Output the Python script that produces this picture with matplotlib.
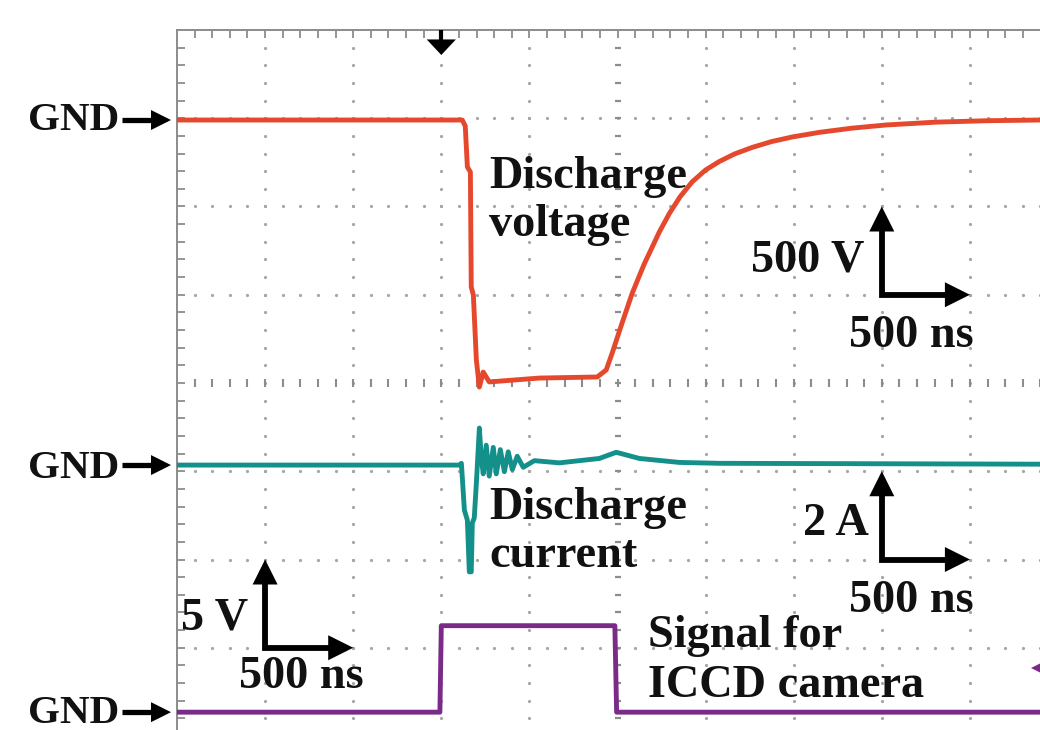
import matplotlib
matplotlib.use("Agg")
import matplotlib.pyplot as plt
import numpy as np

# ---------------- data ----------------
# time in ns (trigger at 0 ns), 500 ns / div
volt_t = [-1500, 119, 136, 148, 165, 170, 182, 199, 216, 238, 272, 556, 885,
          936, 970, 1022, 1084, 1152, 1197, 1237, 1294, 1355, 1424, 1500,
          1578, 1665, 1765, 1875, 1992, 2145, 2332, 2525, 2809, 3100, 3398]
volt_v = [0, 0, -34, -266, -295, -946, -992, -1360, -1513, -1428, -1484,
          -1462, -1456, -1416, -1320, -1162, -980, -815, -720, -635, -530,
          -435, -350, -283, -235, -192, -155, -122, -96, -70, -46, -28, -12,
          -4, 0]                                      # V, 500 V / div

curr_t = [-1500, 102, 114, 131, 148, 159, 170, 176, 187, 199, 216, 227, 238,
          255, 272, 295, 312, 335, 358, 380, 403, 431, 465, 528, 670, 897,
          993, 1124, 1351, 1578, 3398]
curr_a = [0, 0, 0.04, -1.02, -1.25, -2.42, -2.42, -1.31, -1.2, -0.41, 0.84,
          0.16, -0.2, 0.45, -0.25, 0.40, -0.2, 0.35, -0.15, 0.30, -0.1, 0.2,
          -0.05, 0.1, 0.05, 0.15, 0.29, 0.15, 0.06, 0.04, 0.02]  # A, 2 A / div

iccd_t = [-1500, -8, 0, 985, 995, 3398]
iccd_v = [0, 0, 4.9, 4.9, 0, 0]                      # V, 5 V / div
iccd_trig_level = 2.5                                # V (marker at right edge)

# channel settings: (GND position in divisions, units per division, colour)
chan_gnd = [6.98, 3.07, 0.27]
chan_scale = [500, 2, 5]
chan_color = ["#E5482C", "#14908A", "#7A2B88"]

trace_labels = [("Discharge", 489, 188), ("voltage", 489, 236),
                ("Discharge", 489, 519), ("current", 489, 567),
                ("Signal for", 648, 647), ("ICCD camera", 648, 697)]
scale_bars = [(8, 5, "500 V", "500 ns"), (8, 2, "2 A", "500 ns"),
              (1, 1, "5 V", "500 ns")]

# ---------------- layout ----------------
W, H = 1040, 730
X0, Y0 = 177, 30           # grid left / top in pixels
DXP, DYP = 88.1, 88.25     # pixels per division
XMAX = (W - X0) / DXP
YMIN = 8 - (H - Y0) / DYP


def dx(px):
    return (px - X0) / DXP


def dy(py):
    return 8 - (py - Y0) / DYP


FONT = ["Liberation Serif", "DejaVu Serif"]
FS = 33.3
GRID_C = "#8c8c8c"
DOT_C = "#a6a6a6"
TXT_C = "#111111"

fig = plt.figure(figsize=(W / 100, H / 100), dpi=100)
fig.patch.set_facecolor("white")
rect = [X0 / W, 0, (W - X0) / W, (H - Y0) / H]
ax = fig.add_axes(rect)
ax.set_xlim(0, XMAX)
ax.set_ylim(YMIN, 8)
ax.set_facecolor("white")
for s in ["bottom", "right"]:
    ax.spines[s].set_visible(False)
for s in ["left", "top"]:
    ax.spines[s].set_color(GRID_C)
    ax.spines[s].set_linewidth(1.4)
ax.xaxis.tick_top()
ax.set_xticks(np.arange(0.2, XMAX, 0.2))
ax.set_yticks(np.arange(0.2, 8, 0.2))
ax.tick_params(direction="in", length=5.5, width=1.3, colors=GRID_C,
               labeltop=False, labelleft=False, labelbottom=False)

fine_y = np.arange(0.2, 8.0, 0.2)
fine_x = np.arange(0.2, 10.0, 0.2)
for xv in [1, 2, 3, 4, 6, 7, 8, 9]:
    ax.plot(np.full(len(fine_y), xv), fine_y, "o", ms=2.3, mew=0,
            color=DOT_C, zorder=1)
for yh in [1, 2, 3, 5, 6, 7]:
    ax.plot(fine_x, np.full(len(fine_x), yh), "o", ms=2.3, mew=0,
            color=DOT_C, zorder=1)
ax.plot(np.full(len(fine_y), 5), fine_y, "_", ms=5, mew=1.6, color=GRID_C,
        zorder=1)
ax.plot(fine_x, np.full(len(fine_x), 4), "|", ms=6, mew=1.5, color=GRID_C,
        zorder=1)
ax.plot(fine_x, np.full(len(fine_x), dy(733)), "|", ms=5, mew=1.3,
        color=GRID_C, zorder=1)

# ---------------- traces ----------------
series = [(volt_t, volt_v), (curr_t, curr_a), (iccd_t, iccd_v)]
chan_axes = []
for i, (t, v) in enumerate(series):
    a = fig.add_axes(rect, label=f"ch{i}", facecolor="none")
    a.set_xlim(-1500, (XMAX - 3) * 500)
    g, sc = chan_gnd[i], chan_scale[i]
    a.set_ylim((YMIN - g) * sc, (8 - g) * sc)
    a.axis("off")
    a.plot(t, v, color=chan_color[i], lw=3.5, solid_joinstyle="round",
           zorder=3)
    chan_axes.append(a)

chan_axes[2].plot([(XMAX - 3) * 500 - 8], [iccd_trig_level], "<",
                  ms=12, color=chan_color[2], mew=0, clip_on=False)

# ---------------- annotations (on top axes) ----------------
ann = fig.add_axes(rect, label="ann", facecolor="none")
ann.set_xlim(0, XMAX)
ann.set_ylim(YMIN, 8)
ann.axis("off")

# trigger marker
ann.plot([3, 3], [8, dy(43)], color="black", lw=3, solid_capstyle="butt")
ann.annotate("", xy=(3, dy(55)), xytext=(3, dy(38)), annotation_clip=False,
             arrowprops=dict(arrowstyle="-|>,head_length=0.8,head_width=0.75",
                             mutation_scale=14, lw=0, color="black",
                             shrinkA=0, shrinkB=0))

# GND markers
for g, base in zip(chan_gnd, [130, 478, 723]):
    ann.text(dx(119), dy(base), "GND", ha="right", va="baseline",
             fontsize=29.6, fontweight="bold", family=FONT, color=TXT_C,
             clip_on=False)
    ann.plot([dx(122), dx(156)], [g, g], color="black", lw=3.8,
             solid_capstyle="butt", clip_on=False)
    ann.annotate("", xy=(dx(171), g), xytext=(dx(140), g),
                 annotation_clip=False,
                 arrowprops=dict(arrowstyle="-|>,head_length=0.9,head_width=0.45",
                                 mutation_scale=16, lw=0, color="black",
                                 shrinkA=0, shrinkB=0))

for txt, px, py in trace_labels:
    ann.text(dx(px), dy(py), txt, ha="left", va="baseline", fontsize=FS,
             fontweight="bold", family=FONT, color=TXT_C)

# scale bars
label_pos = {
    (8, 5): ((864, 272), (849, 347)),
    (8, 2): ((869, 535), (849, 612)),
    (1, 1): ((181, 630), (239, 688)),
}
for x0, y0, vlab, tlab in scale_bars:
    ann.plot([x0, x0, x0 + 0.8], [y0 + 0.8, y0, y0], color="black", lw=4.2,
             solid_joinstyle="miter", solid_capstyle="butt", zorder=5)
    for tip in [(x0, y0 + 1), (x0 + 1, y0)]:
        ann.annotate("", xy=tip, xytext=(x0, y0),
                     arrowprops=dict(arrowstyle="-|>,head_length=0.9,head_width=0.45",
                                     mutation_scale=20, lw=0, color="black",
                                     shrinkA=0, shrinkB=0), zorder=5)
    (vx, vy), (tx, ty) = label_pos[(x0, y0)]
    ha_v = "left" if x0 == 1 else "right"
    ann.text(dx(vx), dy(vy), vlab, ha=ha_v, va="baseline", fontsize=FS,
             fontweight="bold", family=FONT, color=TXT_C)
    ann.text(dx(tx), dy(ty), tlab, ha="left", va="baseline", fontsize=FS,
             fontweight="bold", family=FONT, color=TXT_C)

fig.savefig("out.png", dpi=100, facecolor="white")
